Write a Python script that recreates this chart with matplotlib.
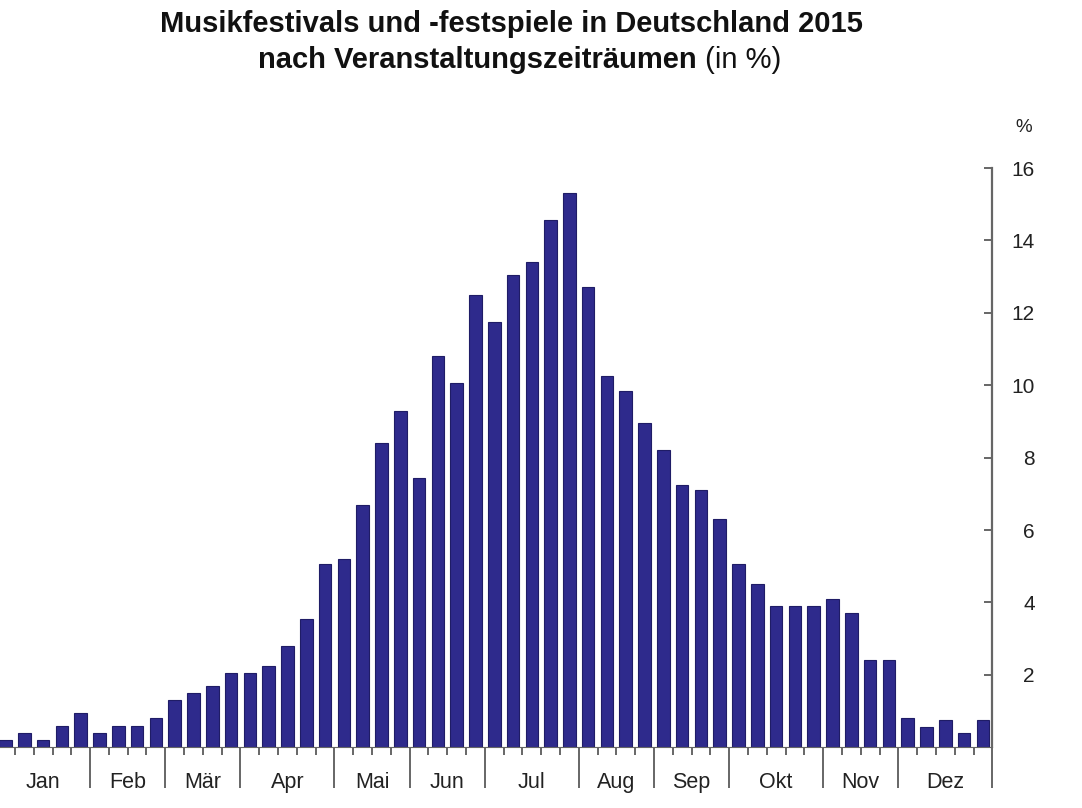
import matplotlib.pyplot as plt
import numpy as np
from matplotlib import rcParams

rcParams['font.family'] = ['Liberation Sans', 'DejaVu Sans']

# weekly share of festivals (%), 53 weeks
values = [0.2, 0.4, 0.2, 0.6, 0.95,
          0.4, 0.6, 0.6, 0.8,
          1.3, 1.5, 1.7, 2.05,
          2.05, 2.25, 2.8, 3.55, 5.05,
          5.2, 6.7, 8.4, 9.3,
          7.45, 10.8, 10.05, 12.5,
          11.75, 13.05, 13.4, 14.55, 15.3,
          12.7, 10.25, 9.85, 8.95,
          8.2, 7.25, 7.1, 6.3,
          5.05, 4.5, 3.9, 3.9, 3.9,
          4.1, 3.7, 2.4, 2.4,
          0.8, 0.55, 0.75, 0.4, 0.75]
months = ["Jan", "Feb", "Mär", "Apr", "Mai", "Jun",
          "Jul", "Aug", "Sep", "Okt", "Nov", "Dez"]
weeks_per_month = [5, 4, 4, 5, 4, 4, 5, 4, 4, 5, 4, 5]
y_ticks = [2, 4, 6, 8, 10, 12, 14, 16]

bar_color = '#2e2a8c'
axis_color = '#666666'
text_color = '#222222'

W, H = 1082, 808
fig = plt.figure(figsize=(W / 100, H / 100), dpi=100)
ax = fig.add_axes([-2 / W, (H - 747.3) / H, 994.3 / W, (747.3 - 168) / H])

x = np.arange(len(values)) + 0.5
ax.bar(x, values, width=0.67, color=bar_color, edgecolor='#1f1c66', linewidth=0.8, zorder=2)

ax.set_xlim(0.1, len(values))
ax.set_ylim(0, 16)

for s in ['top', 'left']:
    ax.spines[s].set_visible(False)
ax.spines['right'].set_color(axis_color)
ax.spines['right'].set_linewidth(1.6)
ax.spines['bottom'].set_color(axis_color)
ax.spines['bottom'].set_linewidth(0.8)

# y axis on the right, ticks pointing into the plot, labels right aligned
ax.yaxis.tick_right()
ax.set_yticks(y_ticks)
ax.set_yticklabels([str(v) for v in y_ticks])
ax.tick_params(axis='y', direction='in', length=6, width=1.4, color=axis_color,
               labelsize=15, labelcolor=text_color, pad=30.5)
for lab in ax.get_yticklabels():
    lab.set_horizontalalignment('right')

# x axis: long lines at month borders, short ticks between weeks
bounds = np.cumsum(weeks_per_month)
week_edges = [b for b in range(1, len(values)) if b not in bounds]
ax.set_xticks(bounds)
ax.set_xticklabels([])
ax.set_xticks(week_edges, minor=True)
ax.tick_params(axis='x', which='major', direction='out', length=29.5, width=1.4, color=axis_color)
ax.tick_params(axis='x', which='minor', direction='out', length=6, width=1.4, color=axis_color)

starts = np.concatenate([[0], bounds[:-1]])
for m, a, b in zip(months, starts, bounds):
    ax.text((a + b) / 2, -0.061, m, transform=ax.get_xaxis_transform(),
            ha='center', va='center', fontsize=15.5, color=text_color)

fig.text(1032 / W, 1 - 128 / H, '%', ha='right', va='center', fontsize=13.5, color=text_color)

fig.text(511 / W, 1 - 31.5 / H, 'Musikfestivals und -festspiele in Deutschland 2015',
         ha='center', va='baseline', fontsize=21, fontweight='bold', color='#111111')
fig.text(697 / W, 1 - 68 / H, 'nach Veranstaltungszeiträumen',
         ha='right', va='baseline', fontsize=21, fontweight='bold', color='#111111')
fig.text(697 / W, 1 - 68 / H, ' (in %)',
         ha='left', va='baseline', fontsize=21, color='#111111')

fig.savefig('out.png', dpi=100, facecolor='white')
